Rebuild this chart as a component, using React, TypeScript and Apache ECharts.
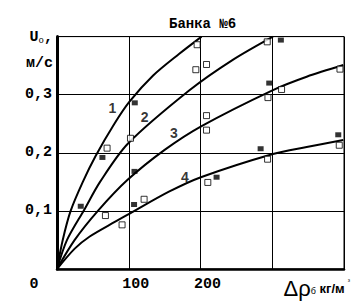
import React, { useEffect, useRef } from "react";
import * as echarts from "echarts";

const title = "Банка №6";
const xTicks = [0, 100, 200];
const yTicks = [0.1, 0.2, 0.3];

const curve1 = [[0, 0], [8, 0.05], [19, 0.1], [36, 0.15], [54, 0.195], [80, 0.25], [101, 0.288], [134, 0.333], [170, 0.37], [201.5, 0.4]];
const curve2 = [[0, 0], [14, 0.05], [38, 0.102], [60, 0.15], [99, 0.216], [185, 0.308], [245, 0.36], [301, 0.4]];
const curve3 = [[0, 0], [24.7, 0.05], [57, 0.1], [98, 0.153], [150, 0.205], [201.5, 0.246], [301, 0.308], [348, 0.331], [399, 0.351]];
const curve4 = [[0, 0], [24.7, 0.035], [45.6, 0.056], [80.5, 0.081], [98, 0.093], [156, 0.133], [200.5, 0.158], [301, 0.198], [348, 0.21], [399, 0.222]];

const filledPts = [
  [108.4, 0.286], [63.3, 0.192], [108, 0.168], [33.1, 0.108], [107.4, 0.111],
  [312, 0.394], [295.8, 0.32], [392, 0.231], [283.8, 0.207], [222.4, 0.158],
];
const hollowPts = [
  [195.3, 0.386], [193.5, 0.343], [208.4, 0.352], [293, 0.391], [313, 0.309],
  [294, 0.295], [394.4, 0.344], [102.4, 0.225], [69.8, 0.208], [121.4, 0.12],
  [67.5, 0.092], [90.7, 0.076], [208.4, 0.264], [208.4, 0.239], [393.4, 0.213],
  [293.5, 0.189], [210.2, 0.149],
];
const curveLabels = [[77.2, 0.277, "1"], [122.3, 0.262, "2"], [162.8, 0.234, "3"], [178.2, 0.158, "4"]];

const MONO = "Liberation Mono";
const SANS = "Liberation Sans";

export default function App() {
  const ref = useRef<HTMLDivElement>(null);
  useEffect(() => {
    if (!ref.current) return;
    const chart = echarts.init(ref.current, undefined, { renderer: "svg" });
    const lineSeries = (data: number[][]) => ({
      type: "line",
      data,
      smooth: 0.3,
      showSymbol: false,
      symbol: "none",
      lineStyle: { color: "#000", width: 2 },
      z: 3,
    });
    chart.setOption({
      animation: false,
      backgroundColor: "#fff",
      title: {
        text: title,
        left: 164,
        top: 12,
        textStyle: { fontFamily: MONO, fontSize: 14, fontWeight: "bold", color: "#000" },
      },
      grid: {
        left: 57,
        right: 9,
        top: 36.6,
        bottom: 34,
        show: true,
        borderColor: "#000",
        borderWidth: 1,
        backgroundColor: "transparent",
      },
      xAxis: {
        type: "value",
        min: 0,
        max: 400,
        interval: 100,
        axisLine: { show: true, lineStyle: { color: "#000", width: 2.5 } },
        axisTick: { show: false },
        splitLine: { show: true, lineStyle: { color: "#000", width: 1 } },
        axisLabel: {
          margin: 8,
          color: "#000",
          fontFamily: MONO,
          fontSize: 15,
          fontWeight: "bold",
          formatter: (v: number) => {
            if (!xTicks.includes(v)) return "";
            if (v === 0) return "{z|" + v + "}";
            return "{a|" + v + "}";
          },
          rich: {
            z: { fontFamily: MONO, fontSize: 15, fontWeight: "bold", color: "#000", padding: [0, 46, 0, 0] },
            a: { fontFamily: MONO, fontSize: 15, fontWeight: "bold", color: "#000", padding: [0, 0, 0, 14] },
          },
        },
        name: "{d|Δρ}{b|б}{k| кг/м}{e|³}",
        nameLocation: "end",
        nameGap: 6,
        nameTextStyle: {
          align: "right",
          verticalAlign: "top",
          padding: [8, 0, 0, 0],
          rich: {
            d: { fontFamily: SANS, fontSize: 22, color: "#000", verticalAlign: "bottom" },
            b: { fontFamily: SANS, fontSize: 9, color: "#000", verticalAlign: "bottom", padding: [0, 0, 4, 0] },
            k: { fontFamily: SANS, fontSize: 13, fontWeight: "bold", color: "#000", verticalAlign: "bottom", padding: [0, 0, 4, 0] },
            e: { fontFamily: SANS, fontSize: 7, color: "#000", verticalAlign: "top", padding: [0, 0, 14, 3] },
          },
        },
      },
      yAxis: {
        type: "value",
        min: 0,
        max: 0.4,
        interval: 0.1,
        axisLine: { show: true, lineStyle: { color: "#000", width: 3 } },
        axisTick: { show: false },
        splitLine: { show: true, lineStyle: { color: "#000", width: 1 } },
        axisLabel: {
          margin: 5,
          color: "#000",
          fontFamily: MONO,
          fontSize: 15,
          fontWeight: "bold",
          formatter: (v: number) => {
            const r = Math.round(v * 10) / 10;
            return yTicks.includes(r) ? r.toFixed(1).replace(".", ",") : "";
          },
        },
        name: "{u|U}{s|o}{u|,}\n{u|м/с}",
        nameLocation: "end",
        nameGap: 12,
        nameTextStyle: {
          align: "right",
          verticalAlign: "top",
          padding: [0, 4, 0, 0],
          lineHeight: 26,
          rich: {
            u: { fontFamily: MONO, fontSize: 15, fontWeight: "bold", color: "#000", lineHeight: 26 },
            s: { fontFamily: MONO, fontSize: 9, color: "#000", lineHeight: 26, padding: [6, 0, 0, 0] },
          },
        },
      },
      series: [
        lineSeries(curve1),
        lineSeries(curve2),
        lineSeries(curve3),
        lineSeries(curve4),
        {
          type: "scatter",
          data: filledPts,
          symbol: "rect",
          symbolSize: [6, 5],
          itemStyle: { color: "#000" },
          z: 4,
        },
        {
          type: "scatter",
          data: hollowPts,
          symbol: "rect",
          symbolSize: [6, 6],
          itemStyle: { color: "#fff", borderColor: "#000", borderWidth: 1 },
          z: 4,
        },
        {
          type: "scatter",
          data: curveLabels,
          symbolSize: 1,
          itemStyle: { color: "transparent" },
          label: {
            show: true,
            position: "inside",
            formatter: (p: any) => p.value[2],
            fontFamily: SANS,
            fontSize: 14,
            fontWeight: "bold",
            color: "#000",
          },
          z: 5,
        },
      ],
    });
    return () => chart.dispose();
  }, []);
  return <div ref={ref} style={{ position: "fixed", left: 0, top: 0, width: 353, height: 303 }} />;
}
